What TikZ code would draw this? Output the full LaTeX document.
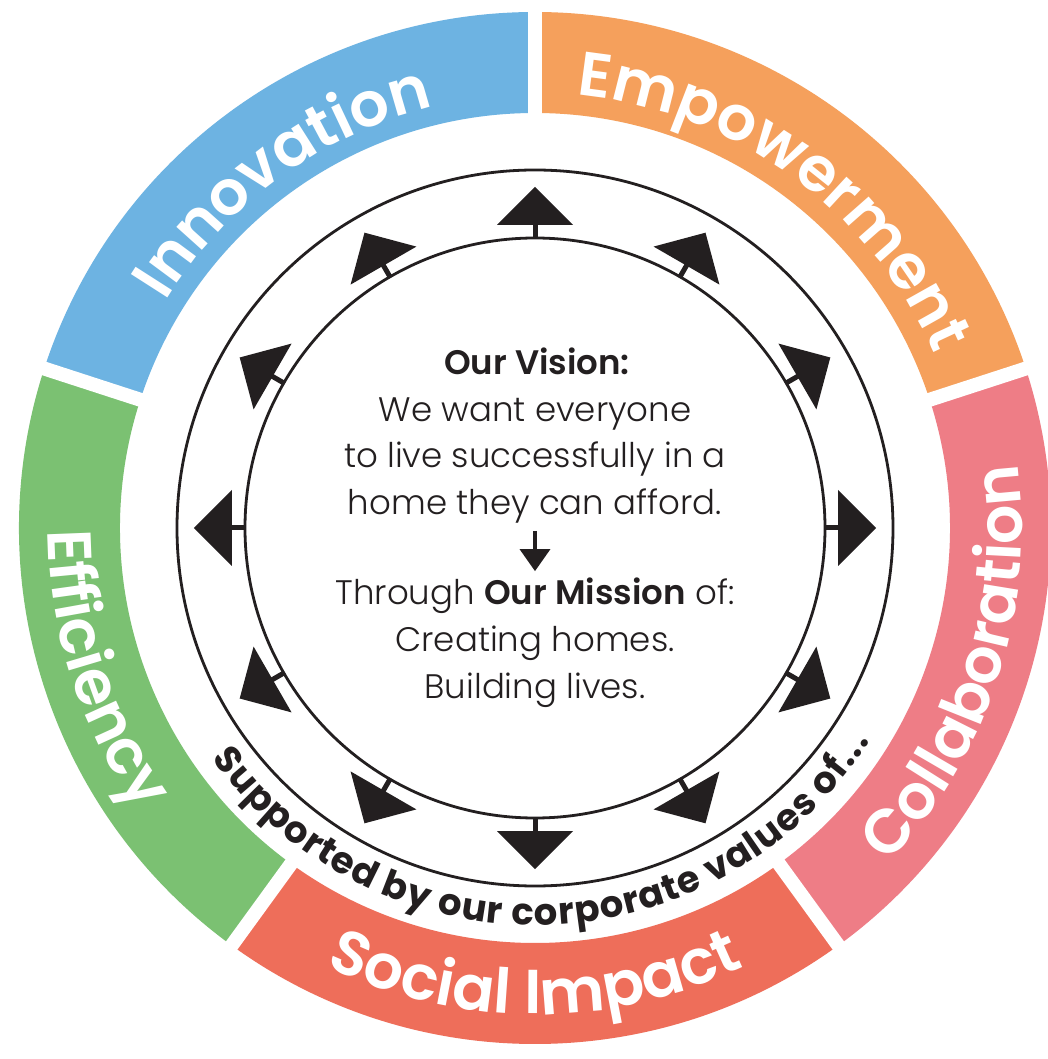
\documentclass[tikz,border=0pt]{standalone}
\usepackage{fontspec}
\setmainfont{Poppins}[UprightFont=* Light, BoldFont=* SemiBold]
\newfontfamily\semifont{Poppins SemiBold}
\newfontfamily\heavyfont{Poppins Bold}
\usetikzlibrary{decorations.text,arrows.meta}
\definecolor{cInno}{HTML}{6DB3E2}
\definecolor{cEmp}{HTML}{F5A05C}
\definecolor{cCol}{HTML}{EE7D86}
\definecolor{cSoc}{HTML}{EE6E5A}
\definecolor{cEff}{HTML}{7BC172}
\definecolor{ink}{HTML}{231F20}
\newcommand\ringfmt{\semifont\fontsize{62}{62}\selectfont\color{white}}
\newcommand\supfmt{\heavyfont\fontsize{37}{37}\selectfont\color{ink}}
\begin{document}
\begin{tikzpicture}[x=1pt,y=1pt,
  body/.style={font=\fontsize{34}{40}\selectfont, text=ink, inner sep=0pt, anchor=base},
  bodybold/.style={body, font=\fontsize{34}{40}\selectfont\bfseries},
  ring/.style={line width=2.8pt, draw=ink},
  flow/.style={line width=3.5pt, draw=ink, -{Triangle[width=30pt,length=22pt]}, shorten <=7pt, shorten >=7pt}]
\useasboundingbox (-535,-531) rectangle (513,528);
\fill[white] (-535,-531) rectangle (513,528);

% coloured segments
\foreach \a/\b/\c in {90/162/cInno, 18/90/cEmp, -54/18/cCol, 234/306/cSoc, 162/234/cEff}
  \fill[\c] (\a:516) arc[start angle=\a, end angle=\b, radius=516] -- (\b:415) arc[start angle=\b, end angle=\a, radius=415] -- cycle;
\foreach \g in {90,162,234,306,18}
  \draw[white, line width=14pt] (\g:400) -- (\g:530);

% ring labels
\path[decorate, decoration={text along path, text align=center, text={|\ringfmt|Innovation}}]
  (162:433) arc[start angle=162, end angle=90, radius=433];
\path[decorate, decoration={text along path, text align=center, text={|\ringfmt|Empowerment}}]
  (90:435) arc[start angle=90, end angle=18, radius=435];
\path[decorate, decoration={text along path, text align=center, text={|\ringfmt|Collaboration}}]
  (-54:487) arc[start angle=-54, end angle=18, radius=487];
\path[decorate, decoration={text along path, text align=center, text={|\ringfmt|Social Impact}}]
  (234:486) arc[start angle=234, end angle=306, radius=486];
\path[decorate, decoration={text along path, text align=center, text={|\ringfmt|Efficiency}}]
  (162:487) arc[start angle=162, end angle=234, radius=487];
\path[decorate, decoration={text along path, text align=fit to path, text={|\supfmt|Supported by our corporate values of...}}]
  (215.5:397) arc[start angle=215.5, end angle=327.5, radius=397];

% circles
\draw[ring] (0,0) circle[radius=358];
\draw[ring] (0,0) circle[radius=290];

% radial arrows
\foreach \a in {0,30,...,330} {
  \draw[line width=5pt, ink] (\a:289) -- (\a:306);
  \fill[ink, rotate=\a] (341,0) -- (303,38) -- (303,-38) -- cycle;
}

% centre text
\node[bodybold] (v0) at (2,153) {Our Vision:};
\node[body] (v1) at (0,106) {We want everyone};
\node[body] (v2) at (0,60) {to live successfully in a};
\node[body] (v3) at (0,13) {home they can afford.};
\node[body] (m1) at (0,-77) {Through \textbf{Our Mission} of:};
\node[body] (m2) at (0,-124) {Creating homes.};
\node[body] (m3) at (0,-170) {Building lives.};
\draw[flow] (v3.south) -- (m1.north);
\end{tikzpicture}
\end{document}
